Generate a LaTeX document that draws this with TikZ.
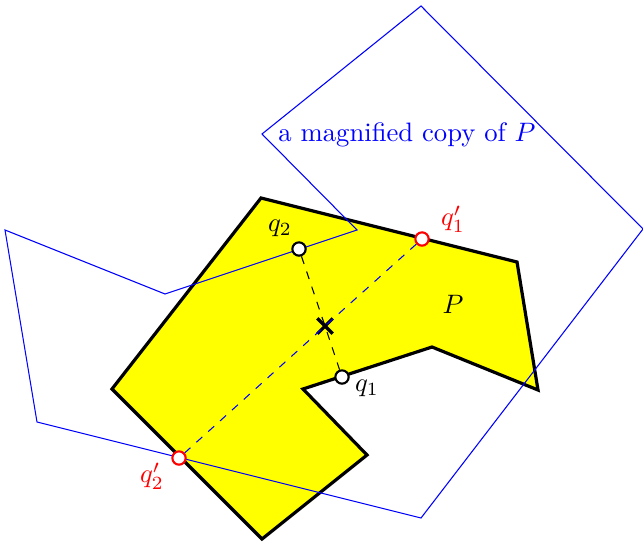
\documentclass[tikz,border=0pt]{standalone}
\usetikzlibrary{shapes.misc}

\definecolor{pgeel}{HTML}{FFFF00}
\definecolor{kopieblauw}{HTML}{0000FF}
\definecolor{puntrood}{HTML}{FF0000}

\begin{document}
\begin{tikzpicture}[x=0.375pt,y=-0.375pt,
  punt/.style={circle,draw,thick,fill=white,inner sep=0pt,minimum size=5pt},
  rodepunt/.style={punt,draw=puntrood}]

  \useasboundingbox (0,0) rectangle (643,542);

  % veelhoek P
  \filldraw[fill=pgeel,very thick,line join=miter]
    (261,198) -- (517,262) -- (538,390) -- (432,347) -- (303,389)
    -- (367,455) -- (262,539) -- (112,389) -- cycle;

  % vergrote kopie van P
  \draw[kopieblauw]
    (421,6) -- (643,229) -- (421,518) -- (37,422) -- (5,230)
    -- (165,294) -- (357,230) -- (262,134) -- cycle;

  % punten
  \node[punt] (q2) at (299,249) {};
  \node[punt] (q1) at (342,377) {};
  \node[rodepunt] (q1a) at (422,239) {};
  \node[rodepunt] (q2a) at (179,458) {};
  \node[cross out,draw,very thick,inner sep=0pt,minimum size=4.6pt] (m) at (325,326) {};

  % verbindingen
  \draw[dashed] (q2) -- (m.center) -- (q1);
  \draw[dashed,kopieblauw] (q1a) -- (m.center) -- (q2a);

  % labels
  \node at (280,228) {$q_2$};
  \node at (367,388) {$q_1$};
  \node[text=puntrood] at (453,219) {$q_1'$};
  \node[text=puntrood] at (152,476) {$q_2'$};
  \node at (453,304) {$P$};
  \node[text=kopieblauw] at (407,135) {a magnified copy of $P$};

\end{tikzpicture}
\end{document}
